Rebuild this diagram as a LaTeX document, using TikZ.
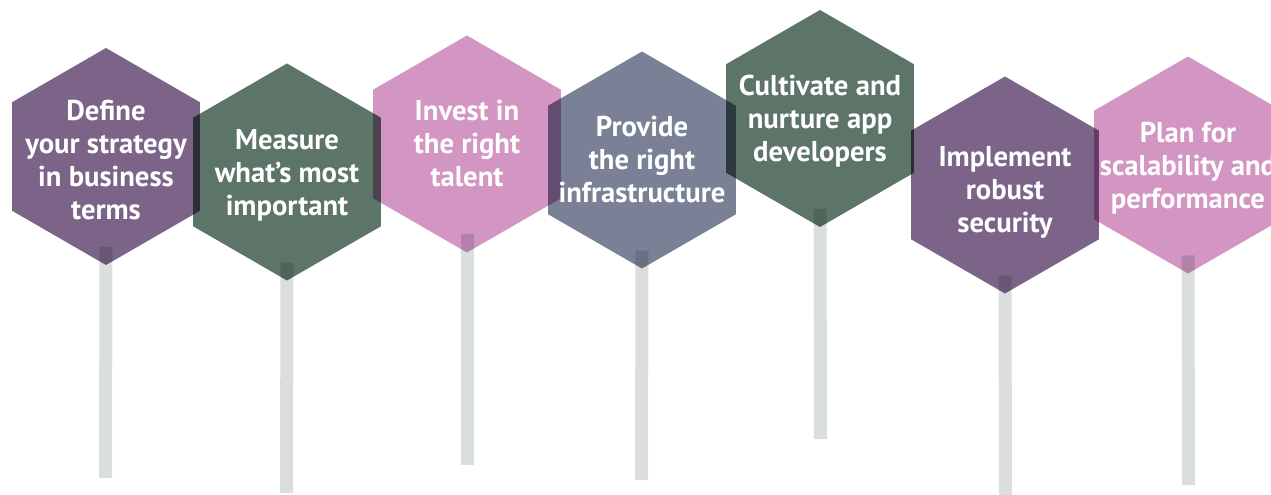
\documentclass[tikz,border=0pt]{standalone}
\usepackage{fontspec}
\setmainfont{PT Sans}
\definecolor{Plum}{RGB}{123, 100, 135}
\definecolor{Sage}{RGB}{93, 116, 104}
\definecolor{Orchid}{RGB}{211, 149, 194}
\definecolor{Slate}{RGB}{122, 129, 151}
\definecolor{StickGrey}{RGB}{218, 223, 221}
\usetikzlibrary{positioning, shapes.geometric, calc}

\begin{document}
\begin{tikzpicture}[x=0.75pt, y=-0.75pt,
                hexa/.style={regular polygon, regular polygon sides=6, shape border rotate=30, minimum size=162.75pt, inner sep=0pt, draw=none, blend mode=multiply},
                label/.style={text=white, font=\bfseries\fontsize{21.5}{24.75}\selectfont, align=center},
                stick/.style={StickGrey, line width=9.75pt, blend mode=multiply}]

                \clip (0,0) rectangle (1271,495);

                % Hexagons
                \node[hexa, fill=Plum] (h1) at (106,156.5) {};
                \node[hexa, fill=Sage] (h2) at (287,172) {};
                \node[hexa, fill=Orchid] (h3) at (467,144) {};
                \node[hexa, fill=Slate] (h4) at (642,160) {};
                \node[hexa, fill=Sage] (h5) at (820,118.5) {};
                \node[hexa, fill=Plum] (h6) at (1005,185) {};
                \node[hexa, fill=Orchid] (h7) at (1188,165) {};

                % Stick ends
                \coordinate (s1) at (105.5,478);
                \coordinate (s2) at (286.5,493);
                \coordinate (s3) at (467,465);
                \coordinate (s4) at (641.5,480);
                \coordinate (s5) at (820.5,439);
                \coordinate (s6) at (1005.5,497);
                \coordinate (s7) at (1188.5,485);

                % Sticks
                \draw[stick] ($(h1.center)+(0,90.5)$) -- (s1);
                \draw[stick] ($(h2.center)+(0,90.5)$) -- (s2);
                \draw[stick] ($(h3.center)+(0,90.5)$) -- (s3);
                \draw[stick] ($(h4.center)+(0,90.5)$) -- (s4);
                \draw[stick] ($(h5.center)+(0,90.5)$) -- (s5);
                \draw[stick] ($(h6.center)+(0,90.5)$) -- (s6);
                \draw[stick] ($(h7.center)+(0,90.5)$) -- (s7);

                % Labels
                \node[label] (t1) at ($(h1.center)+(0,4)$) {Define\\your strategy\\in business\\terms};
                \node[label] (t2) at ($(h2.center)+(0,3)$) {Measure\\what’s most\\important};
                \node[label] (t3) at (h3.center) {Invest in\\the right\\talent};
                \node[label] (t4) at (h4.center) {Provide\\the right\\infrastructure};
                \node[label] (t5) at ($(h5.center)+(0,3)$) {Cultivate and\\nurture app\\developers};
                \node[label] (t6) at ($(h6.center)+(0,7)$) {Implement\\robust\\security};
                \node[label] (t7) at ($(h7.center)+(0,3)$) {Plan for\\scalability and\\performance};
            \end{tikzpicture}
\end{document}
